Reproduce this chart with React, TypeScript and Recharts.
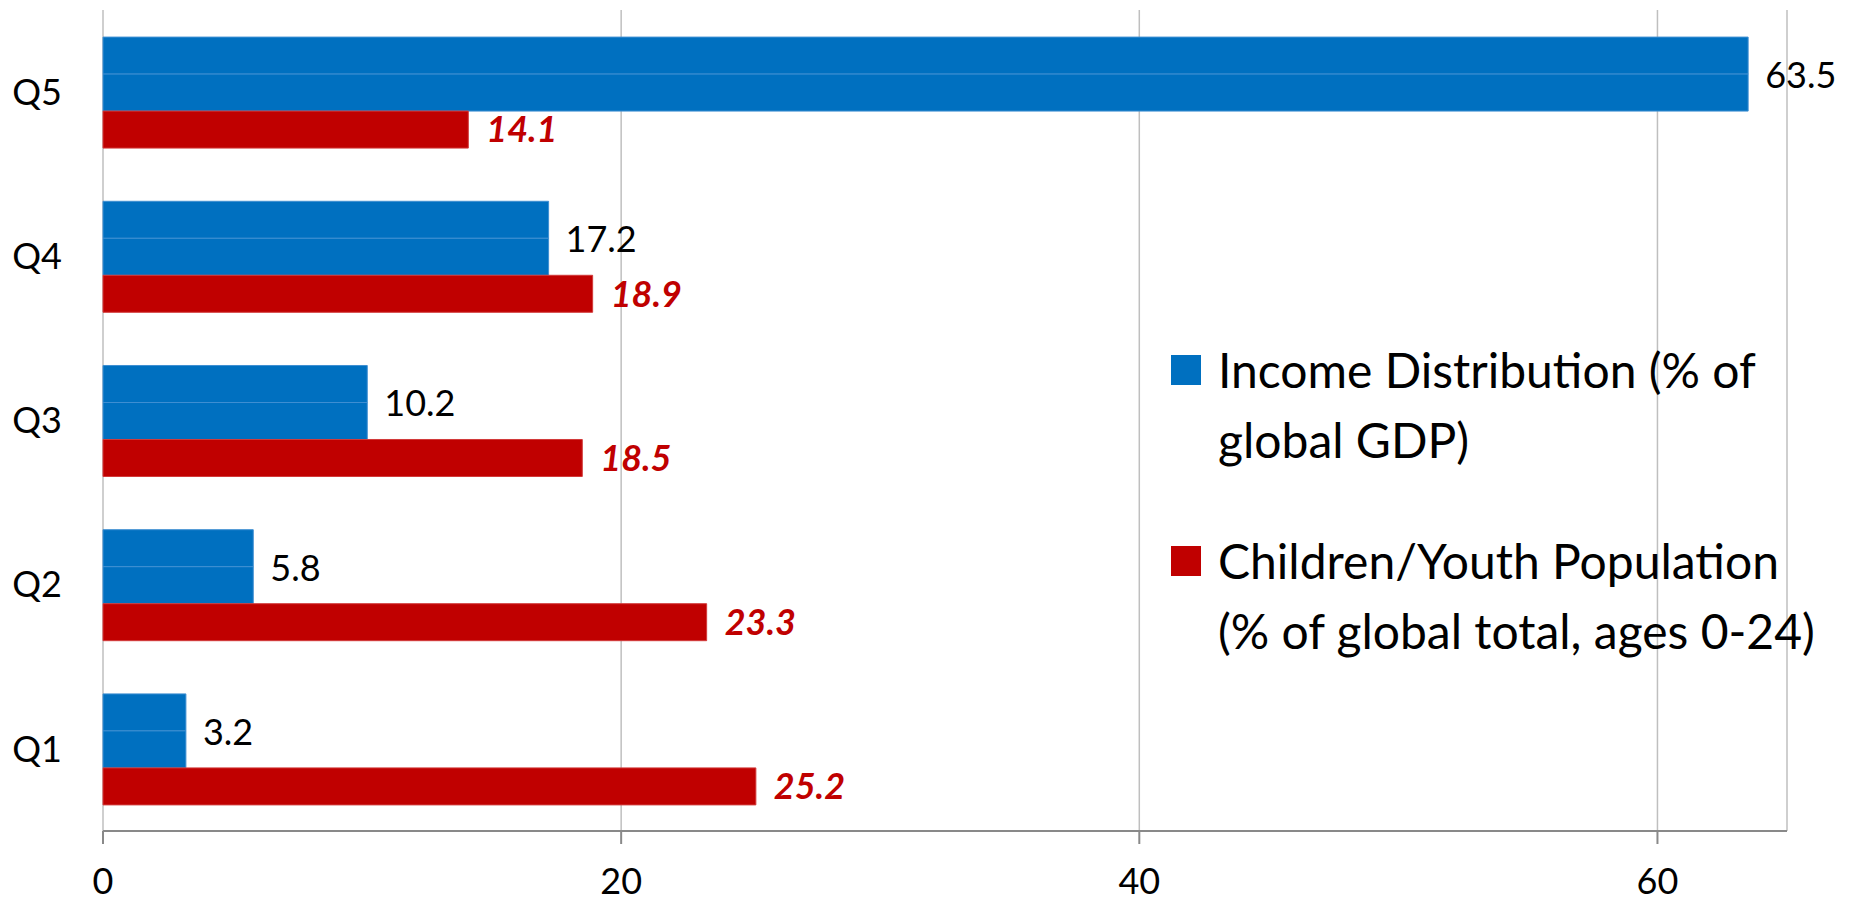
import { BarChart, Bar, XAxis, YAxis, CartesianGrid, Legend, LabelList } from "recharts"

const quintiles = ["Q5", "Q4", "Q3", "Q2", "Q1"]
const incomeShare = [63.5, 17.2, 10.2, 5.8, 3.2] // % of global GDP
const youthShare = [14.1, 18.9, 18.5, 23.3, 25.2] // % of children/youth, ages 0-24
const xTicks = [0, 20, 40, 60]
const bandEdges = [0, 1, 2, 3, 4, 5]

const BLUE = "#0070C0"
const RED = "#C00000"
const AXIS = "#898989"
const FONT = "Lato, 'Open Sans', sans-serif"

const data = quintiles.map((q, i) => ({
  name: q,
  income: incomeShare[i],
  income2: incomeShare[i],
  youth: youthShare[i],
}))

const legendItems = [
  { color: BLUE, lines: ["Income Distribution (% of", "global GDP)"] },
  { color: RED, lines: ["Children/Youth Population", "(% of global total, ages 0-24)"] },
]

// blue value sits between the two blue halves
const IncomeLabel = (props: any) => {
  const { x, y, width, height, value } = props
  return (
    <text
      x={x + width + 17}
      y={y + height}
      fill="#000"
      fontSize={36}
      fontFamily={FONT}
      dominantBaseline="central"
    >
      {value}
    </text>
  )
}

const LegendBox = () => (
  <div style={{ fontFamily: FONT, fontSize: 48, color: "#000", lineHeight: "70px", textAlign: "left" }}>
    {legendItems.map((item, i) => (
      <div key={i} style={{ display: "flex", alignItems: "flex-start", marginBottom: i === 0 ? 51 : 0 }}>
        <div style={{ width: 30, height: 30, background: item.color, marginTop: 20, marginRight: 17, flexShrink: 0 }} />
        <div style={{ whiteSpace: "nowrap" }}>
          {item.lines.map((l, j) => (
            <div key={j}>{l}</div>
          ))}
        </div>
      </div>
    ))}
  </div>
)

export default function App() {
  return (
    <div style={{ position: "absolute", left: 0, top: 0, width: 1853, height: 903, background: "#fff" }}>
      <BarChart
        width={1853}
        height={903}
        data={data}
        layout="vertical"
        margin={{ top: 10, right: 66, bottom: 0, left: 0 }}
        barCategoryGap="16.5%"
        barGap={0}
      >
        <CartesianGrid horizontal={false} stroke="#bfbfbf" strokeWidth={1.5} />
        <YAxis
          yAxisId="edges"
          type="number"
          domain={[0, 5]}
          ticks={bandEdges}
          tick={false}
          tickSize={13}
          width={0}
          axisLine={{ stroke: AXIS, strokeWidth: 2 }}
          tickLine={{ stroke: AXIS, strokeWidth: 2 }}
        />
        <YAxis
          yAxisId="cat"
          type="category"
          dataKey="name"
          width={103}
          axisLine={false}
          tickLine={false}
          tickSize={0}
          tickMargin={41}
          tick={{ fill: "#000", fontSize: 36, fontFamily: FONT }}
        />
        <XAxis
          type="number"
          domain={[0, 65]}
          ticks={xTicks}
          height={72}
          tickSize={13}
          tickMargin={24}
          axisLine={{ stroke: AXIS, strokeWidth: 2 }}
          tickLine={{ stroke: AXIS, strokeWidth: 2 }}
          tick={{ fill: "#000", fontSize: 36, fontFamily: FONT }}
        />
        <Legend
          layout="vertical"
          align="center"
          verticalAlign="middle"
          content={<LegendBox />}
          wrapperStyle={{ position: "absolute", left: 1171, top: 335, width: 680 }}
        />
        <Bar yAxisId="cat" dataKey="income" name="Income Distribution (% of global GDP)" fill={BLUE} stroke="#3f8fd2" strokeWidth={1} isAnimationActive={false}>
          <LabelList dataKey="income" content={<IncomeLabel />} />
        </Bar>
        <Bar yAxisId="cat" dataKey="income2" legendType="none" fill={BLUE} stroke="#3f8fd2" strokeWidth={1} isAnimationActive={false} />
        <Bar yAxisId="cat" dataKey="youth" name="Children/Youth Population (% of global total, ages 0-24)" fill={RED} stroke="#d23a3a" strokeWidth={1} isAnimationActive={false}>
          <LabelList
            dataKey="youth"
            position="right"
            offset={18}
            fill={RED}
            fontSize={36}
            fontFamily={FONT}
            fontWeight="bold"
            fontStyle="italic"
          />
        </Bar>
      </BarChart>
    </div>
  )
}
